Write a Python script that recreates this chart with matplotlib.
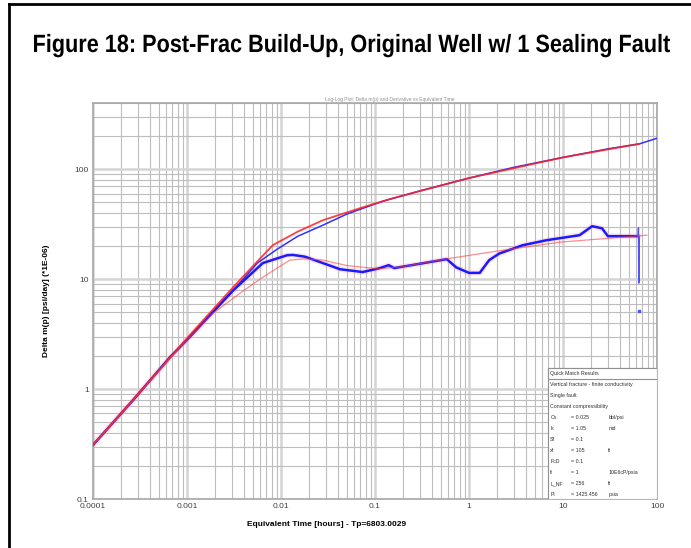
import matplotlib
matplotlib.use("Agg")
import matplotlib.pyplot as plt
from matplotlib.lines import Line2D
from matplotlib.patches import Rectangle, PathPatch
from matplotlib.textpath import TextPath
from matplotlib.font_manager import FontProperties
from matplotlib.transforms import Affine2D
from matplotlib.ticker import LogLocator, FixedLocator, NullFormatter

plt.rcParams['font.family'] = ['Liberation Sans', 'DejaVu Sans']

# measured pressure change (blue, upper)
t_dp = [0.0001, 0.000266, 0.00066, 0.001, 0.0031, 0.0056, 0.009, 0.015, 0.028, 0.05,
        0.074, 0.12, 0.3, 1.0, 3.0, 10.0, 30.0, 65.0, 100.0]
dp = [0.31, 0.79, 1.95, 2.8, 7.9, 14.0, 18.6, 24.5, 31.0, 39.0,
      44.0, 51.0, 63.5, 83.0, 104.0, 128.0, 153.0, 170.0, 191.0]

# measured derivative (blue, lower)
t_der = [0.0001, 0.000266, 0.00066, 0.001, 0.0031, 0.0064, 0.0116, 0.0134, 0.018, 0.026,
         0.0425, 0.074, 0.113, 0.14, 0.16, 0.3, 0.58, 0.73, 1.0, 1.3,
         1.64, 2.1, 3.7, 6.7, 15.0, 20.4, 26.0, 30.0, 63.0]
der = [0.31, 0.79, 1.95, 2.8, 7.9, 14.0, 16.5, 16.6, 16.0, 14.3,
       12.3, 11.6, 12.6, 13.4, 12.6, 13.8, 15.2, 12.8, 11.4, 11.4,
       14.9, 17.1, 20.3, 22.6, 25.1, 30.3, 29.0, 24.6, 24.6]

# end-of-test noise on the derivative
t_noise = [63.0, 63.5, 64.0, 64.5, 65.0]
der_noise = [24.6, 29.3, 9.2, 22.0, 24.0]
t_outlier = [64.5]
der_outlier = [5.1]

# model pressure (red, upper)
t_mdp = [0.0001, 0.001, 0.003, 0.0056, 0.0082, 0.015, 0.028, 0.074, 0.15, 1.0, 10.0, 65.0]
mdp = [0.31, 2.9, 8.2, 14.5, 20.4, 27.0, 34.4, 45.0, 54.0, 83.0, 128.0, 170.0]

# model derivative (red, lower)
t_mder = [0.0001, 0.000266, 0.00066, 0.0019, 0.0037, 0.0064, 0.0124, 0.018, 0.028, 0.05,
          0.11, 0.2, 0.58, 2.0, 9.3, 30.0, 78.0]
mder = [0.31, 0.78, 1.9, 4.9, 7.5, 10.4, 14.9, 15.3, 14.9, 13.3,
        12.4, 13.0, 15.3, 18.0, 21.7, 23.5, 25.1]

x_ticks = [0.0001, 0.001, 0.01, 0.1, 1, 10, 100]
x_labels = ['0.0001', '0.001', '0.01', '0.1', '1', '10', '100']
y_ticks = [0.1, 1, 10, 100]
y_labels = ['0.1', '1', '10', '100']

match_lines = [
    ('Vertical fracture - finite conductivity', '', ''),
    ('Single fault', '', ''),
    ('Constant compressibility', '', ''),
    ('Cs', '= 0.025', 'bbl/psi'),
    ('k', '= 1.05', 'md'),
    ('Sf', '= 0.1', ''),
    ('xf', '= 105', 'ft'),
    ('FcD', '= 0.1', ''),
    ('fi', '= 1', '10E6cP/psia'),
    ('L_NF', '= 256', 'ft'),
    ('Pi', '= 1425.456', 'psia'),
]

title = 'Figure 18: Post-Frac Build-Up, Original Well w/ 1 Sealing Fault'

fig = plt.figure(figsize=(6.91, 5.48), dpi=100)

# page frame (left and top border)
fig.add_artist(Line2D([9 / 691, 9 / 691], [0, 1 - 4 / 548], transform=fig.transFigure,
                      color='black', lw=2))
fig.add_artist(Line2D([9 / 691, 1], [1 - 4 / 548, 1 - 4 / 548], transform=fig.transFigure,
                      color='black', lw=2))

# condensed bold title: squeeze a normal bold font horizontally
fp = FontProperties(family='Liberation Sans', weight='bold')
tp = TextPath((0, 0), title, size=1, prop=fp)
ext = tp.get_extents()
em = 25.0
sx = 636.0 / ext.width
title_tf = Affine2D().translate(-ext.x0, 0).scale(sx, em).translate(34, 548 - 52)
fig.add_artist(PathPatch(title_tf.transform_path(tp), transform=None,
                         facecolor='black', edgecolor='none'))

ax = fig.add_axes([93 / 691, 49 / 548, 564 / 691, 396 / 548])
ax.set_xscale('log')
ax.set_yscale('log')
ax.set_xlim(0.0001, 100)
ax.set_ylim(0.1, 400)

ax.xaxis.set_major_locator(FixedLocator(x_ticks))
ax.yaxis.set_major_locator(FixedLocator(y_ticks))
ax.set_xticklabels(x_labels)
ax.set_yticklabels(y_labels)
ax.xaxis.set_minor_locator(LogLocator(base=10, subs=range(2, 10), numticks=20))
ax.yaxis.set_minor_locator(LogLocator(base=10, subs=range(2, 10), numticks=20))
ax.xaxis.set_minor_formatter(NullFormatter())
ax.yaxis.set_minor_formatter(NullFormatter())
ax.tick_params(which='both', length=0, labelsize=6, colors='#404040', pad=3)

ax.grid(which='major', color='#d4d4d4', lw=1.8)
ax.grid(which='minor', color='#bdbdbd', lw=0.8)
ax.set_axisbelow(True)
for s in ax.spines.values():
    s.set_color('#a8a8a8')
    s.set_linewidth(1.2)

# faint halo behind the data, then lines
ax.plot(t_der, der, color='#ffb0c0', lw=4, alpha=0.35, zorder=2)
ax.plot(t_dp, dp, color='#3030ff', lw=1.1, zorder=3)
ax.plot(t_der, der, color='#1a1aff', lw=1.8, zorder=3)
ax.plot(t_noise, der_noise, color='#5050ff', lw=1.0, zorder=3)
ax.plot(t_outlier, der_outlier, 's', color='#5050ff', ms=1.5, zorder=3)
ax.plot(t_mdp, mdp, color='#ff2020', lw=1.3, alpha=0.85, zorder=4)
ax.plot(t_mder, mder, color='#ff4040', lw=0.9, alpha=0.6, zorder=4)

ax.set_xlabel('Equivalent Time [hours] - Tp=6803.0029', fontsize=6, fontweight='bold')
ax.xaxis.set_label_coords((327 - 93) / 564, -0.055)
ax.set_ylabel('Delta m(p) [psi/day] (*1E-06)', fontsize=6, fontweight='bold', labelpad=18)

fig.text(390 / 691, 1 - 100 / 548, 'Log-Log Plot: Delta m(p) and Derivative vs Equivalent Time',
         ha='center', va='center', fontsize=3.5, color='#909090')

# quick match results box
bx0 = (548 - 93) / 564
bh = (499 - 368) / 396
row = 11 / 396
ax.add_patch(Rectangle((bx0, 0), 1 - bx0, bh, transform=ax.transAxes, facecolor='white',
                       edgecolor='#909090', lw=0.8, zorder=5))
ax.add_patch(Rectangle((bx0, bh - row), 1 - bx0, row, transform=ax.transAxes, facecolor='white',
                       edgecolor='#909090', lw=0.8, zorder=5))
ax.text(bx0 + 0.004, bh - row / 2, 'Quick Match Results', transform=ax.transAxes,
        fontsize=3.8, va='center', ha='left', color='#303030', zorder=6)
for i, (name, val, unit) in enumerate(match_lines):
    yy = bh - row * (i + 1.5)
    ax.text(bx0 + 0.004, yy, name, transform=ax.transAxes, fontsize=3.8, va='center',
            color='#303030', zorder=6)
    if val:
        ax.text(bx0 + 0.04, yy, val, transform=ax.transAxes, fontsize=3.8, va='center',
                color='#303030', zorder=6)
    if unit:
        ax.text(bx0 + 0.107, yy, unit, transform=ax.transAxes, fontsize=3.8, va='center',
                color='#303030', zorder=6)

fig.savefig('out.png', dpi=100)
